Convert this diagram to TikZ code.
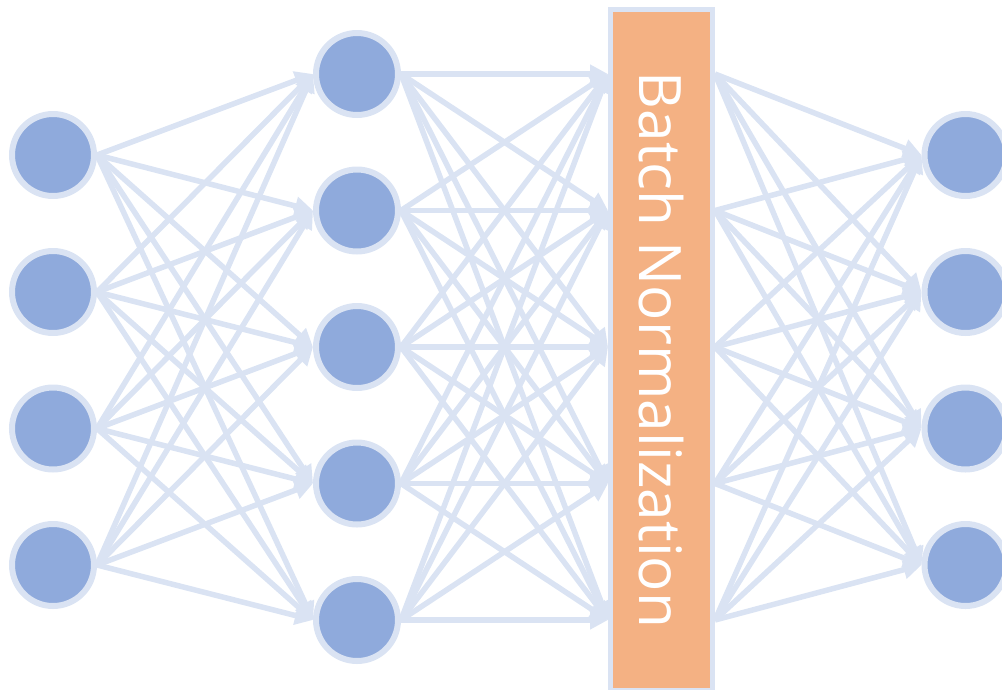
\documentclass[tikz,border=0pt]{standalone}
\usepackage{fontspec}
\newfontfamily\bnfont{Open Sans}
\usetikzlibrary{arrows.meta,backgrounds}
\definecolor{neuronfill}{HTML}{8FAADC}
\definecolor{paleblue}{HTML}{DAE3F3}
\definecolor{bnorange}{HTML}{F4B183}
\tikzset{
  neuron/.style={circle, fill=neuronfill, draw=paleblue, line width=6pt,
    minimum size=82pt, inner sep=0pt},
  bnbox/.style={rectangle, fill=bnorange, draw=paleblue, line width=5pt,
    minimum width=102pt, minimum height=681pt, inner sep=0pt},
  bnlabel/.style={rotate=-90, text=white, inner sep=0pt,
    font=\bnfont\fontsize{58.5pt}{60pt}\selectfont},
  conn/.style={draw=paleblue, line width=5.5pt,
    -{Triangle[length=18pt,width=18pt]}}
}
\begin{document}
\begin{tikzpicture}[x=1pt,y=-1pt]
\useasboundingbox (0,0) rectangle (1002,689);

% input layer
\foreach \i/\y in {1/155,2/292,3/428.5,4/565}
  \node[neuron] (l\i) at (53,\y) {};
% hidden layer
\foreach \i/\y in {1/74,2/210.5,3/347,4/483.5,5/620}
  \node[neuron] (m\i) at (357,\y) {};
% output layer
\foreach \i/\y in {1/155,2/292,3/428.5,4/565}
  \node[neuron] (r\i) at (965.5,\y) {};

% batch normalization block
\node[bnbox] (bn) at (661.5,350) {};
\node[bnlabel] (bntext) at (bn.center) {Batch Normalization};

% entry and exit points on the block's sides
\foreach \j in {1,...,5} {
  \coordinate (bin\j) at (bn.west |- m\j);
  \coordinate (bout\j) at (bn.east |- m\j);
}

% every connector leaves a node's right side and enters the next one's left side
\begin{scope}[on background layer]
  \foreach \i in {1,...,4}
    \foreach \j in {1,...,5}
      \draw[conn] (l\i.east) -- (m\j.west);
  \foreach \i in {1,...,5}
    \foreach \j in {1,...,5}
      \draw[conn] (m\i.east) -- (bin\j);
  \foreach \i in {1,...,5}
    \foreach \j in {1,...,4}
      \draw[conn] (bout\i) -- (r\j.west);
\end{scope}
\end{tikzpicture}
\end{document}
